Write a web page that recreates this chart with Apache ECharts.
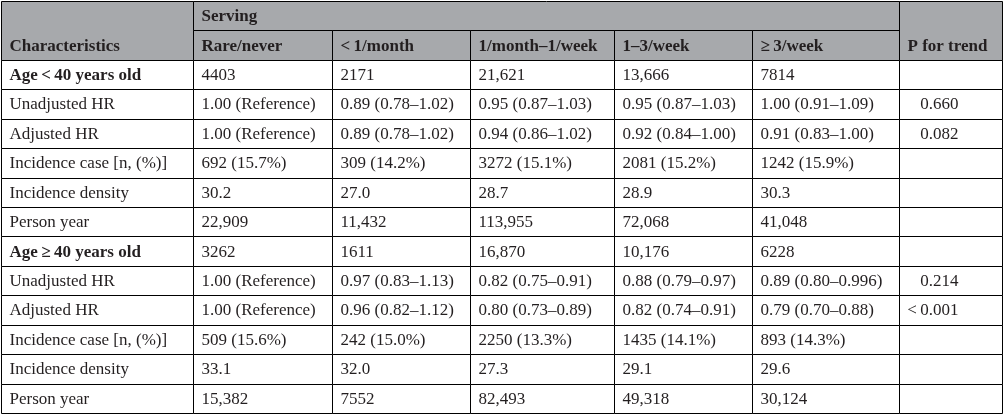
<!DOCTYPE html>
<html>
<head>
<meta charset="utf-8">
<script src="https://cdn.jsdelivr.net/npm/echarts@6/dist/echarts.min.js"></script>
<style>
html, body { margin: 0; padding: 0; background: #fff; }
#main { width: 1005px; height: 415px; }
</style>
</head>
<body>
<div id="main"></div>
<script>
// table content
var rowLabels = ['Age\u2009<\u200940 years old', 'Unadjusted HR', 'Adjusted HR', 'Incidence case [n, (%)]',
    'Incidence density', 'Person year', 'Age\u2009\u2265\u200940 years old', 'Unadjusted HR', 'Adjusted HR',
    'Incidence case [n, (%)]', 'Incidence density', 'Person year'];
var boldRows = [0, 6];
var servingHeads = ['Rare/never', '<\u20091/month', '1/month\u20131/week', '1\u20133/week', '\u2265\u20093/week'];
var rareNever = ['4403', '1.00 (Reference)', '1.00 (Reference)', '692 (15.7%)', '30.2', '22,909',
    '3262', '1.00 (Reference)', '1.00 (Reference)', '509 (15.6%)', '33.1', '15,382'];
var lessMonth = ['2171', '0.89 (0.78\u20131.02)', '0.89 (0.78\u20131.02)', '309 (14.2%)', '27.0', '11,432',
    '1611', '0.97 (0.83\u20131.13)', '0.96 (0.82\u20131.12)', '242 (15.0%)', '32.0', '7552'];
var monthWeek = ['21,621', '0.95 (0.87\u20131.03)', '0.94 (0.86\u20131.02)', '3272 (15.1%)', '28.7', '113,955',
    '16,870', '0.82 (0.75\u20130.91)', '0.80 (0.73\u20130.89)', '2250 (13.3%)', '27.3', '82,493'];
var oneThreeWeek = ['13,666', '0.95 (0.87\u20131.03)', '0.92 (0.84\u20131.00)', '2081 (15.2%)', '28.9', '72,068',
    '10,176', '0.88 (0.79\u20130.97)', '0.82 (0.74\u20130.91)', '1435 (14.1%)', '29.1', '49,318'];
var threeWeek = ['7814', '1.00 (0.91\u20131.09)', '0.91 (0.83\u20131.00)', '1242 (15.9%)', '30.3', '41,048',
    '6228', '0.89 (0.80\u20130.996)', '0.79 (0.70\u20130.88)', '893 (14.3%)', '29.6', '30,124'];
var pTrend = ['', '0.660', '0.082', '', '', '', '', '0.214', '<\u20090.001', '', '', ''];

// layout
var colEdges = [1, 193, 332, 470, 614, 752, 899, 1002];
var headBg = '#a7a9ac';
var ink = '#231f20';
var fontFamily = '"Liberation Serif", "DejaVu Serif", serif';

var myChart = echarts.init(document.getElementById('main'));

var valueCols = [rareNever, lessMonth, monthWeek, oneThreeWeek, threeWeek];
var cells = [];
// header cells
cells.push({ value: [colEdges[0], 0, colEdges[1], 2], text: 'Characteristics', kind: 'head' });
cells.push({ value: [colEdges[1], 0, colEdges[6], 1], text: 'Serving', kind: 'head' });
for (var i = 0; i < servingHeads.length; i++) {
    cells.push({ value: [colEdges[i + 1], 1, colEdges[i + 2], 1], text: servingHeads[i], kind: 'head' });
}
cells.push({ value: [colEdges[6], 0, colEdges[7], 2], text: 'P for trend', kind: 'head' });
// body cells
for (var r = 0; r < rowLabels.length; r++) {
    cells.push({ value: [colEdges[0], r + 2, colEdges[1], 1], text: rowLabels[r],
        kind: boldRows.indexOf(r) >= 0 ? 'bold' : 'norm' });
    for (var c = 0; c < valueCols.length; c++) {
        cells.push({ value: [colEdges[c + 1], r + 2, colEdges[c + 2], 1], text: valueCols[c][r], kind: 'norm' });
    }
    cells.push({ value: [colEdges[6], r + 2, colEdges[7], 1], text: pTrend[r], kind: 'p' });
}

var rowNames = [];
for (var k = 0; k < rowLabels.length + 2; k++) rowNames.push('r' + k);

function renderCell(params, api) {
    var cell = cells[params.dataIndex];
    var p0 = api.coord([api.value(0), api.value(1)]);
    var p1 = api.coord([api.value(2), api.value(1)]);
    var h = api.size([0, 1])[1];
    var span = api.value(3);
    var top = p0[1] - h / 2;
    var x0 = Math.round(p0[0]) + 0.5;
    var x1 = Math.round(p1[0]) + 0.5;
    var y0 = Math.round(top) + 0.5;
    var y1 = Math.round(top + h * span) + 0.5;
    var ty = top + h * (span - 0.5);
    var bold = cell.kind === 'head' || cell.kind === 'bold';
    var isP = cell.kind === 'p';
    return {
        type: 'group',
        children: [{
            type: 'rect',
            shape: { x: x0, y: y0, width: x1 - x0, height: y1 - y0 },
            style: { fill: cell.kind === 'head' ? headBg : '#fff', stroke: '#000', lineWidth: 1 }
        }, {
            type: 'text',
            style: {
                text: cell.text,
                x: isP ? x0 + 59 : x0 + 8,
                y: ty + 1,
                align: isP ? 'right' : 'left',
                verticalAlign: 'middle',
                fill: ink,
                font: (bold ? 'bold ' : '') + '17px ' + fontFamily
            }
        }]
    };
}

var option = {
    animation: false,
    backgroundColor: '#fff',
    grid: { left: 0, right: 0, top: 1, bottom: 2 },
    xAxis: { type: 'value', min: 0, max: 1005, show: false },
    yAxis: { type: 'category', data: rowNames, inverse: true, show: false },
    series: [{
        type: 'custom',
        renderItem: renderCell,
        encode: { x: [0, 2], y: 1 },
        data: cells
    }]
};
myChart.setOption(option);
</script>
</body>
</html>
